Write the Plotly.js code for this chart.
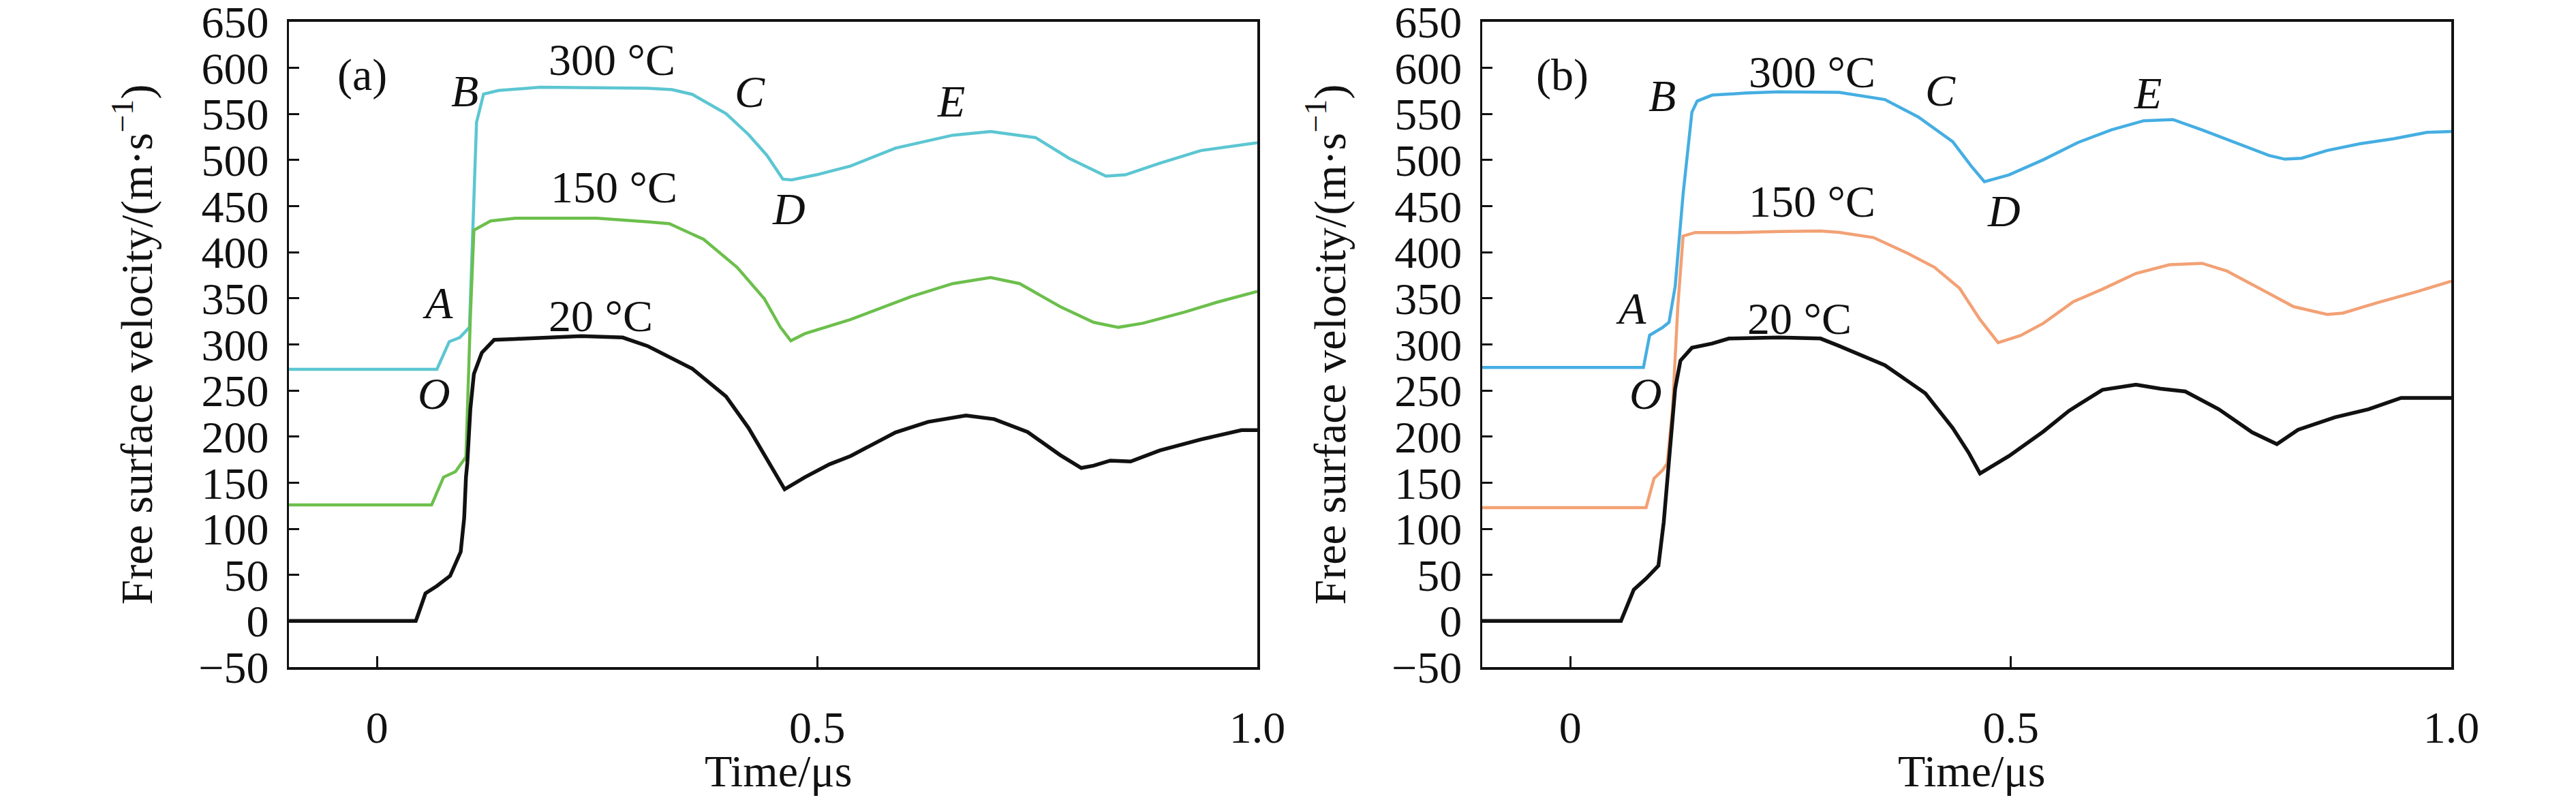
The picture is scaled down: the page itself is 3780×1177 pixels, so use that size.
<!DOCTYPE html>
<html>
<head>
<meta charset="utf-8">
<script src="https://cdn.plot.ly/plotly-3.0.1.min.js"></script>
<style>html,body{margin:0;padding:0;background:#fff;}#chart{width:3780px;height:1177px;}</style>
</head>
<body>
<div id="chart"></div>
<script>
// ---- Panel (a) ----
const t_a20 = [-0.1, 0.044, 0.047, 0.055, 0.068, 0.083, 0.095, 0.099, 0.101, 0.1025, 0.106, 0.11, 0.119, 0.133, 0.157, 0.232, 0.279, 0.307, 0.358, 0.3965, 0.422, 0.443, 0.463, 0.486, 0.514, 0.538, 0.589, 0.626, 0.669, 0.701, 0.739, 0.776, 0.80, 0.814, 0.833, 0.856, 0.889, 0.936, 0.982, 1.0];
const v_a20 = [0, 0, 8, 30, 38, 49, 75, 112, 156, 171, 230, 268, 291, 305, 306, 309, 307.5, 298.4, 273.8, 243.5, 209.4, 175, 142.9, 156, 170, 179, 204.6, 216, 223, 219, 205, 180, 166, 168.5, 174, 173, 185, 197, 207, 207];

const t_a150 = [-0.1, 0.062, 0.0755, 0.089, 0.101, 0.106, 0.11, 0.129, 0.157, 0.25, 0.307, 0.332, 0.371, 0.409, 0.44, 0.458, 0.47, 0.486, 0.538, 0.56, 0.607, 0.654, 0.697, 0.73, 0.776, 0.814, 0.842, 0.87, 0.917, 0.955, 1.0];
const v_a150 = [126, 126, 156, 162, 178, 330, 424, 434, 437, 437, 433, 431, 414, 383.7, 349.5, 319, 304, 311.7, 327, 335, 352, 366, 372.6, 366, 341, 324, 318.6, 323, 335, 346, 357.6];

const t_a300 = [-0.1, 0.068, 0.082, 0.094, 0.105, 0.109, 0.113, 0.121, 0.138, 0.185, 0.307, 0.335, 0.358, 0.3965, 0.422, 0.443, 0.461, 0.471, 0.499, 0.538, 0.589, 0.654, 0.697, 0.748, 0.786, 0.828, 0.85, 0.889, 0.936, 1.0];
const v_a300 = [273, 273, 303, 307.5, 318.6, 430, 541, 571.6, 575.5, 579, 578, 576.5, 571.3, 550.4, 527.7, 505, 479.3, 478.5, 484, 493.6, 513, 527, 531, 524.4, 502, 482.6, 484, 496.5, 510.4, 518.8];

// ---- Panel (b) ----
const t_b20 = [-0.1, 0.0575, 0.072, 0.086, 0.1, 0.106, 0.112, 0.119, 0.125, 0.138, 0.161, 0.18, 0.237, 0.284, 0.305, 0.357, 0.403, 0.434, 0.452, 0.465, 0.498, 0.537, 0.566, 0.604, 0.642, 0.67, 0.698, 0.736, 0.774, 0.802, 0.826, 0.868, 0.906, 0.943, 1.0];
const v_b20 = [0, 0, 34, 46, 60, 107, 174, 252, 282.5, 296.4, 301, 306.4, 307.5, 306.4, 298.4, 277.5, 247, 209.4, 182.8, 160, 179, 205.6, 228, 250.8, 256.4, 252, 249, 229.7, 204.6, 191.9, 207.5, 221, 229.7, 242, 242];

const t_b150 = [-0.1, 0.086, 0.095, 0.105, 0.11, 0.116, 0.122, 0.128, 0.142, 0.189, 0.237, 0.284, 0.305, 0.344, 0.3825, 0.4134, 0.4418, 0.465, 0.4856, 0.511, 0.537, 0.571, 0.604, 0.642, 0.68, 0.717, 0.745, 0.783, 0.821, 0.859, 0.877, 0.915, 0.962, 1.0];
const v_b150 = [123, 123, 154.6, 164, 171, 230, 341, 417.6, 421.5, 421.5, 422.6, 423, 421.6, 416, 399, 383.7, 361, 327, 302, 309.7, 323, 346.4, 360, 377, 386.5, 388, 379.8, 360, 341, 332.5, 334, 345, 357.6, 368.7];

const t_b300 = [-0.1, 0.083, 0.09, 0.105, 0.112, 0.119, 0.128, 0.138, 0.144, 0.161, 0.199, 0.237, 0.305, 0.357, 0.395, 0.434, 0.455, 0.47, 0.498, 0.537, 0.576, 0.614, 0.651, 0.684, 0.717, 0.755, 0.793, 0.811, 0.83, 0.859, 0.896, 0.934, 0.972, 1.0];
const v_b300 = [275, 275, 310, 318.6, 324, 363, 463, 552, 564, 570.5, 572.7, 574, 573.5, 565.7, 546.7, 520, 493.6, 476.5, 484, 500.4, 519, 532.7, 542.7, 544, 532.7, 519, 505, 501, 502, 510.4, 517.7, 523, 530, 531];

// ---- Axis ticks & labels ----
const xTickVals = [0, 0.5, 1.0];
const xTickText = ['0', '0.5', '1.0'];
const yTickVals = [-50, 0, 50, 100, 150, 200, 250, 300, 350, 400, 450, 500, 550, 600, 650];
const yTickText = ['\u221250', '0', '50', '100', '150', '200', '250', '300', '350', '400', '450', '500', '550', '600', '650'];
const xTitle = 'Time/μs';
const yTitle = 'Free surface velocity/(m·s<sup>−1</sup>)';

// ---- Text labels ----
const labelsA = [
  {t: '(a)', x: -0.017, y: 592, it: false},
  {t: 'B', x: 0.100, y: 575, it: true},
  {t: '300 °C', x: 0.267, y: 609, it: false},
  {t: 'C', x: 0.424, y: 574, it: true},
  {t: 'E', x: 0.652, y: 564, it: true},
  {t: 'D', x: 0.468, y: 447, it: true},
  {t: '150 °C', x: 0.269, y: 471, it: false},
  {t: 'A', x: 0.069, y: 345, it: true},
  {t: '20 °C', x: 0.254, y: 331, it: false},
  {t: 'O', x: 0.065, y: 247, it: true}
];
const labelsB = [
  {t: '(b)', x: -0.009, y: 592, it: false},
  {t: 'B', x: 0.104, y: 570, it: true},
  {t: '300 °C', x: 0.274, y: 596, it: false},
  {t: 'C', x: 0.420, y: 576, it: true},
  {t: 'E', x: 0.655, y: 573, it: true},
  {t: 'D', x: 0.492, y: 445, it: true},
  {t: '150 °C', x: 0.274, y: 455, it: false},
  {t: 'A', x: 0.069, y: 339, it: true},
  {t: '20 °C', x: 0.260, y: 328, it: false},
  {t: 'O', x: 0.086, y: 247, it: true}
];

const FONT = 'Liberation Serif, Times New Roman, serif';
const FS = 66;

function tr(x, y, color, w, xa, ya) {
  return {x: x, y: y, type: 'scatter', mode: 'lines', xaxis: xa, yaxis: ya,
          line: {color: color, width: w}, showlegend: false, hoverinfo: 'skip'};
}

const data = [
  tr(t_a300, v_a300, '#5cc6d2', 4.5, 'x', 'y'),
  tr(t_a150, v_a150, '#6cbf4c', 4.5, 'x', 'y'),
  tr(t_a20, v_a20, '#111111', 5.5, 'x', 'y'),
  tr(t_b300, v_b300, '#45aee2', 4.5, 'x2', 'y2'),
  tr(t_b150, v_b150, '#f2a175', 4.5, 'x2', 'y2'),
  tr(t_b20, v_b20, '#111111', 5.5, 'x2', 'y2')
];

function xax(domain, anchor) {
  return {
    domain: domain, anchor: anchor, range: [-0.1, 1.0],
    tickmode: 'array', tickvals: xTickVals, ticktext: xTickText,
    ticks: 'inside', ticklen: 16, tickwidth: 3, tickcolor: '#111',
    showline: true, linecolor: '#111', linewidth: 3.5, mirror: true,
    showgrid: false, zeroline: false,
    tickfont: {family: FONT, size: FS, color: '#111'},
    ticklabelstandoff: 28
  };
}
function yax(anchor) {
  return {
    domain: [0.17113, 0.98963], anchor: anchor, range: [-50, 650],
    tickmode: 'array', tickvals: yTickVals, ticktext: yTickText,
    ticks: 'inside', ticklen: 15, tickwidth: 3, tickcolor: '#111',
    showline: true, linecolor: '#111', linewidth: 3.5, mirror: true,
    showgrid: false, zeroline: false,
    tickfont: {family: FONT, size: FS, color: '#111'},
    ticklabelstandoff: 13,
    ticklabeloverflow: 'allow',
    title: {text: yTitle, font: {family: FONT, size: FS, color: '#111'}, standoff: 47}
  };
}

const annotations = [];
labelsA.forEach(l => annotations.push({xref: 'x', yref: 'y', x: l.x, y: l.y, text: l.it ? '<i>' + l.t + '</i>' : l.t,
  showarrow: false, xanchor: 'center', yanchor: 'middle', font: {family: FONT, size: FS, color: '#111'}}));
labelsB.forEach(l => annotations.push({xref: 'x2', yref: 'y2', x: l.x, y: l.y, text: l.it ? '<i>' + l.t + '</i>' : l.t,
  showarrow: false, xanchor: 'center', yanchor: 'middle', font: {family: FONT, size: FS, color: '#111'}}));
['x domain', 'x2 domain'].forEach(xr => annotations.push({xref: xr, yref: 'paper', x: 0.505, y: 0.039,
  text: xTitle, showarrow: false, xanchor: 'center', yanchor: 'middle', borderpad: 0,
  font: {family: FONT, size: FS, color: '#111'}}));

const layout = {
  width: 3780, height: 1177,
  margin: {l: 0, r: 0, t: 20, b: 0},
  paper_bgcolor: '#fff', plot_bgcolor: '#fff',
  font: {family: FONT, size: FS, color: '#111'},
  xaxis: xax([0.1122, 0.4881], 'y'),
  yaxis: yax('x'),
  xaxis2: xax([0.5754, 0.9516], 'y2'),
  yaxis2: yax('x2'),
  annotations: annotations,
  showlegend: false
};

Plotly.newPlot('chart', data, layout, {staticPlot: true, displayModeBar: false});
</script>
</body>
</html>
